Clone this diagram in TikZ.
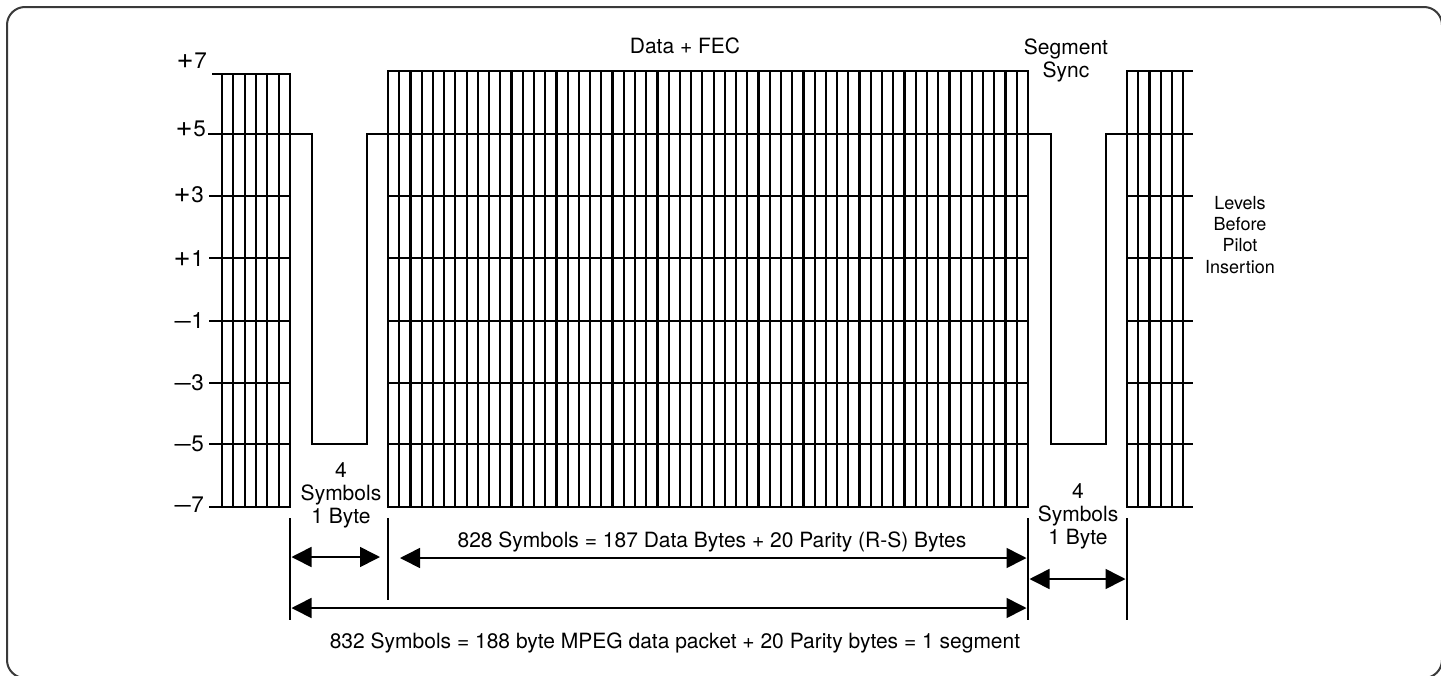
\documentclass[tikz,border=0pt]{standalone}
\usepackage{graphicx}
\usepackage{fontspec}
\setmainfont{TeX Gyre Heros}
\usetikzlibrary{arrows.meta}
\definecolor{framecol}{HTML}{3A3A3A}
\newcommand{\bigplus}{\scalebox{1.3}{+}\kern0.5pt}
\newcommand{\bigminus}{\scalebox{1.3}[1]{–}\kern0.5pt}
\begin{document}
\begin{tikzpicture}[x=1pt,y=-1pt,
  grid/.style={line width=2.2pt},
  wave/.style={line width=2.2pt, line join=miter},
  tick/.style={line width=2.4pt},
  dimarrow/.style={line width=1.6pt,
    {Triangle[length=20pt,width=20pt]}-{Triangle[length=20pt,width=20pt]}},
  lbl/.style={font=\fontsize{21}{23}\selectfont, inner sep=0pt},
  lvl/.style={font=\fontsize{22.5}{24}\selectfont, inner sep=0pt, anchor=east},
  multi/.style={font=\fontsize{21}{23}\selectfont, inner sep=0pt, align=center, anchor=north},
  side/.style={font=\fontsize{18}{21.3}\selectfont, inner sep=0pt, align=center, anchor=north}]
\useasboundingbox (0,0) rectangle (1441,675);
\draw[framecol, line width=2pt, rounded corners=18pt] (7,7) rectangle (1442,678);

% ---------- left block ----------
\draw[grid] (212,74) -- (291,74);
\foreach \y in {196,258,321,383,444,507} \draw[grid] (209,\y) -- (291,\y);
\foreach \i in {0,...,6} \draw[grid] ({222+\i*11.33},73) -- ({222+\i*11.33},508);

% ---------- data block ----------
\foreach \y in {71,196,258,321,383,444,507} \draw[grid] (387,\y) -- (1029,\y);
\foreach \i in {0,...,57} \draw[grid] ({388+\i*11.228},70) -- ({388+\i*11.228},508);

% ---------- right block ----------
\foreach \y in {71,196,258,321,383,444,507} \draw[grid] (1126,\y) -- (1193,\y);
\foreach \i in {0,...,5} \draw[grid] ({1127+\i*11.2},70) -- ({1127+\i*11.2},508);

% ---------- +5 level with the two segment sync pulses ----------
\draw[wave] (208,134) -- (312,134) -- (312,444) -- (367,444) -- (367,134)
  -- (1051,134) -- (1051,444) -- (1106,444) -- (1106,134) -- (1193,134);

% ---------- level labels ----------
\node[lvl] (l7) at (207,60.5) {\bigplus7};
\node[lvl] (l5) at (206,129) {\bigplus5};
\node[lvl] (l3) at (204,195) {\bigplus3};
\node[lvl] (l1) at (204,259) {\bigplus1};
\node[lvl] (lm1) at (204,321) {\bigminus1};
\node[lvl] (lm3) at (204,383) {\bigminus3};
\node[lvl] (lm5) at (204,444) {\bigminus5};
\node[lvl] (lm7) at (204,505) {\bigminus7};

% ---------- titles ----------
\node[lbl, anchor=base] (datafec) at (685,53) {Data + FEC};
\node[multi] (segsync) at (1066,38.5) {Segment\\Sync};
\node[side] (levels) at (1240,196) {Levels\\Before\\Pilot\\Insertion};
\node[multi] (sym1) at (341,462) {4\\Symbols\\1 Byte};
\node[multi] (sym2) at (1078,483) {4\\Symbols\\1 Byte};

% ---------- dimension ticks ----------
\coordinate (t1a) at (290,518); \coordinate (t1b) at (290,620);
\coordinate (t2a) at (388,518); \coordinate (t2b) at (388,600);
\coordinate (t3a) at (1028,518); \coordinate (t3b) at (1028,620);
\coordinate (t4a) at (1127,518); \coordinate (t4b) at (1127,620);
\draw[tick] (t1a) -- (t1b);
\draw[tick] (t2a) -- (t2b);
\draw[tick] (t3a) -- (t3b);
\draw[tick] (t4a) -- (t4b);

% ---------- dimension arrows ----------
\coordinate (a1s) at (291.5,557); \coordinate (a1e) at (380,557);
\coordinate (a2s) at (400,558); \coordinate (a2e) at (1026.5,558);
\coordinate (a3s) at (1029.5,579); \coordinate (a3e) at (1125.5,579);
\coordinate (a4s) at (291.5,608); \coordinate (a4e) at (1026.5,608);
\draw[dimarrow] (a1s) -- (a1e);
\draw[dimarrow] (a2s) -- (a2e);
\draw[dimarrow] (a3s) -- (a3e);
\draw[dimarrow] (a4s) -- (a4e);

\node[lbl, anchor=base] (t828) at (712,547) {828 Symbols = 187 Data Bytes + 20 Parity (R-S) Bytes};
\node[lbl, anchor=base] (t832) at (675,648) {832 Symbols = 188 byte MPEG data packet + 20 Parity bytes = 1 segment};
\end{tikzpicture}
\end{document}
